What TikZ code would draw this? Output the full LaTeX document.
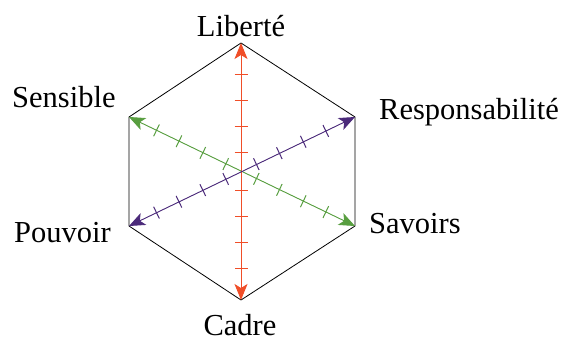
\documentclass[tikz,border=0pt]{standalone}
\usepackage{fontspec}
\setmainfont{Liberation Serif}
\usetikzlibrary{arrows.meta,calc}
\definecolor{redA}{RGB}{240,78,40}
\definecolor{greenA}{RGB}{88,158,64}
\definecolor{purpleA}{RGB}{75,42,122}
\tikzset{
  lbl/.style={inner sep=0pt, font=\fontsize{30.5}{36}\selectfont},
  hexline/.style={draw=black, line width=0.8pt, line join=miter},
  axis/.style={line width=0.9pt, {Stealth[length=16pt,width=13pt,inset=4pt]}-{Stealth[length=16pt,width=13pt,inset=4pt]}},
  tickline/.style={line width=1pt}
}
\begin{document}
\begin{tikzpicture}[x=1pt,y=-1pt]
\useasboundingbox (0,0) rectangle (564,342);
% hexagon vertices
\coordinate (c) at (241,171.5);
\coordinate (t) at (241,43);
\coordinate (ur) at (355,117);
\coordinate (lr) at (355,226);
\coordinate (b) at (241,300);
\coordinate (ll) at (129,226);
\coordinate (ul) at (129,117);
\draw[hexline] (t) -- (ur) -- (lr) -- (b) -- (ll) -- (ul) -- cycle;
% ticks on the vertical axis
\foreach \v in {t,b}{
  \foreach \d in {19,45,71,97}{
    \draw[tickline,draw=redA] ($(c)!\d pt!(\v)!6.5pt!90:(\v)$) -- ($(c)!\d pt!(\v)!6.5pt!-90:(\v)$);
  }
}
% ticks on the diagonal axes
\foreach \v/\col in {ul/greenA,lr/greenA,ur/purpleA,ll/purpleA}{
  \foreach \d in {17,42.5,69,94}{
    \draw[tickline,draw=\col] ($(c)!\d pt!(\v)!6.5pt!90:(\v)$) -- ($(c)!\d pt!(\v)!6.5pt!-90:(\v)$);
  }
}
% axes
\draw[axis, redA, fill=redA] (b) -- (t);
\draw[axis, greenA, fill=greenA] (lr) -- (ul);
\draw[axis, purpleA, fill=purpleA] (ll) -- (ur);
% labels
\node[lbl, anchor=base] (lib) at (241,36.7) {Liberté};
\node[lbl, anchor=base west] (resp) at (379,120) {Responsabilité};
\node[lbl, anchor=base west] (sens) at (12,107) {Sensible};
\node[lbl, anchor=base west] (pouv) at (14,242) {Pouvoir};
\node[lbl, anchor=base west] (sav) at (369,233) {Savoirs};
\node[lbl, anchor=base] (cad) at (240,335) {Cadre};
\end{tikzpicture}
\end{document}
